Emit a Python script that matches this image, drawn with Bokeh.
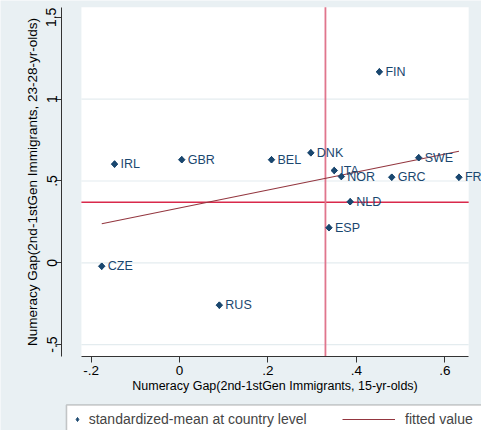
import numpy as np
from bokeh.plotting import figure
from bokeh.models import (Range1d, ColumnDataSource, LabelSet, Legend, LegendItem,
                          BoxAnnotation, FixedTicker)
from bokeh.core.properties import value
from bokeh.embed import file_html
from bokeh.resources import INLINE

# ---- data ----
countries = ["IRL", "GBR", "BEL", "DNK", "FIN", "ITA", "NOR", "GRC", "SWE", "FRA",
             "NLD", "ESP", "CZE", "RUS"]
gap_15yr = [-0.147, 0.005, 0.208, 0.297, 0.452, 0.350, 0.366, 0.480, 0.541, 0.632,
            0.386, 0.338, -0.176, 0.090]
gap_23_28yr = [0.603, 0.630, 0.630, 0.672, 1.167, 0.564, 0.527, 0.523, 0.642, 0.523,
               0.373, 0.214, -0.021, -0.259]
ref_x = 0.330   # vertical reference line
ref_y = 0.370   # horizontal reference line
x_ticks = [-0.2, 0, 0.2, 0.4, 0.6]
x_tick_labels = ["-.2", "0", ".2", ".4", ".6"]
y_ticks = [-0.5, 0, 0.5, 1, 1.5]
y_tick_labels = ["-.5", "0", ".5", "1", "1.5"]
y_grid = [-0.5, 0, 0.5, 1]

# ---- style / layout ----
BG = "#e9f0f3"
NAVY = "#1a476f"
MAROON = "#93363f"
FONT = "Liberation Sans"
# whole canvas range, and the white plot region inside it
X_LO, X_HI = -0.405, 0.683
Y_LO, Y_HI = -1.025, 1.603
PX_LO, PX_HI = -0.222, 0.654     # plot region (white)
PY_LO, PY_HI = -0.571, 1.562
YAXIS_AT = -0.267                # y axis sits left of the plot region

p = figure(width=481, height=430, x_range=Range1d(X_LO, X_HI), y_range=Range1d(Y_LO, Y_HI),
           output_backend="svg", toolbar_location=None,
           min_border_left=0, min_border_right=0, min_border_top=0, min_border_bottom=0)
p.background_fill_color = BG
p.border_fill_color = BG
p.outline_line_color = None
p.xgrid.visible = False
p.ygrid.visible = False

# white plot region
p.quad(left=[PX_LO], right=[PX_HI], bottom=[PY_LO], top=[PY_HI],
       fill_color="white", line_color=None)
# grid lines
p.segment(x0=[PX_LO] * len(y_grid), x1=[PX_HI] * len(y_grid), y0=y_grid, y1=y_grid,
          line_color="#e4ecef", line_width=1.2)

# reference lines
p.segment(x0=[PX_LO], x1=[PX_HI], y0=[ref_y], y1=[ref_y], line_color="#d9294b", line_width=1.4)
p.segment(x0=[ref_x], x1=[ref_x], y0=[PY_LO], y1=[PY_HI], line_color="#e0768d", line_width=1.8)

# fitted line (OLS)
xs = np.array(gap_15yr)
ys = np.array(gap_23_28yr)
b1, b0 = np.polyfit(xs, ys, 1)
fx = np.array([xs.min(), xs.max()])
fit_r = p.line(fx, b0 + b1 * fx, line_color=MAROON, line_width=1.1)

src = ColumnDataSource(dict(x=gap_15yr, y=gap_23_28yr, name=countries))
# diamond markers: a diamond glyph (used for the legend key) under a rotated square
sc = p.scatter("x", "y", source=src, marker="diamond", size=6.5,
               fill_color=NAVY, line_color=NAVY)
p.scatter("x", "y", source=src, marker="square", angle=np.pi / 4, size=4.6,
          fill_color=NAVY, line_color=NAVY)

labels = LabelSet(x="x", y="y", text="name", source=src, x_offset=6, y_offset=0,
                  text_align="left", text_baseline="middle", text_font=value(FONT),
                  text_font_size="12.5px", text_color=NAVY)
p.add_layout(labels)

# axes
for ax in (p.xaxis[0], p.yaxis[0]):
    ax.axis_line_color = "#333333"
    ax.major_tick_line_color = "#333333"
    ax.major_tick_out = 6
    ax.major_tick_in = 0
    ax.minor_tick_line_color = None
    ax.major_label_text_font = FONT
    ax.major_label_text_color = "black"
    ax.axis_label_text_font = FONT
    ax.axis_label_text_font_style = "normal"
    ax.axis_label_text_color = "black"

xa = p.xaxis[0]
xa.fixed_location = PY_LO
xa.bounds = (PX_LO, PX_HI)
xa.ticker = FixedTicker(ticks=x_ticks)
xa.major_label_overrides = dict(zip(x_ticks, x_tick_labels))
xa.major_label_text_font_size = "13.5px"
xa.major_label_standoff = 4
xa.axis_label = "Numeracy Gap(2nd-1stGen Immigrants, 15-yr-olds)"
xa.axis_label_text_font_size = "12.5px"
xa.axis_label_standoff = 0

ya = p.yaxis[0]
ya.fixed_location = YAXIS_AT
ya.bounds = (PY_LO, PY_HI)
ya.ticker = FixedTicker(ticks=y_ticks)
ya.major_label_overrides = dict(zip(y_ticks, y_tick_labels))
ya.major_label_orientation = "vertical"
ya.major_label_text_font_size = "14px"
ya.major_label_standoff = -1
ya.axis_label = "Numeracy Gap(2nd-1stGen Immigrants, 23-28-yr-olds)"
ya.axis_label_text_font_size = "13.5px"
ya.axis_label_standoff = 4

# legend frame (runs off the right and bottom edges, as in the reference)
box = BoxAnnotation(left=66, right=500, top=404.5, bottom=450,
                    left_units="canvas", right_units="canvas",
                    top_units="canvas", bottom_units="canvas",
                    fill_color="white", fill_alpha=1, line_color="#505050", line_width=1.6)
p.add_layout(box)

legA = Legend(items=[LegendItem(label="standardized-mean at country level", renderers=[sc])],
              location=(71.7, 1), orientation="horizontal", glyph_width=10, glyph_height=20,
              label_standoff=7, padding=0, margin=0, border_line_alpha=0,
              background_fill_alpha=0, label_text_font=FONT, label_text_font_size="14px",
              label_height=20)
legB = Legend(items=[LegendItem(label="fitted value", renderers=[fit_r])],
              location=(342, 1), orientation="horizontal", glyph_width=53, glyph_height=20,
              label_standoff=10, padding=0, margin=0, border_line_alpha=0,
              background_fill_alpha=0, label_text_font=FONT, label_text_font_size="14px",
              label_height=20)
p.add_layout(legA)
p.add_layout(legB)

open("out.html", "w").write(file_html(p, INLINE))
